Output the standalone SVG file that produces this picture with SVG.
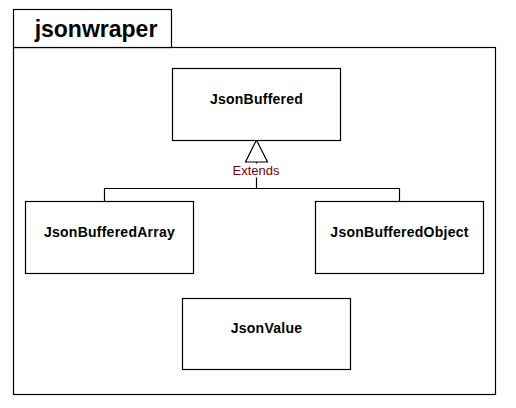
<svg xmlns="http://www.w3.org/2000/svg" width="516" height="408" viewBox="0 0 516 408">
<style>
.box{fill:#fff;stroke:#000;stroke-width:1.2}
.cls{font-family:"Liberation Sans",Arial,sans-serif;font-weight:bold;font-size:14px;letter-spacing:0.25px;fill:#000;text-anchor:middle}
.edge{fill:none;stroke:#000;stroke-width:1.2}
</style>
<rect width="516" height="408" fill="#fff"/>
<g id="package">
<rect class="box" x="13.5" y="47.5" width="482" height="347"/>
<rect class="box" x="13.5" y="9.5" width="158" height="38"/>
<text x="96" y="37" font-family="Liberation Sans,Arial,sans-serif" font-weight="bold" font-size="23" text-anchor="middle" fill="#000">jsonwraper</text>
</g>
<g id="connectors">
<polyline class="edge" points="104.5,201 104.5,188.5 399.5,188.5 399.5,201"/>
<line class="edge" x1="256.5" y1="162" x2="256.5" y2="188.5"/>
<polygon class="edge" points="256.5,140 245.5,162 267.5,162" style="fill:#fff"/>
<rect x="230" y="163.5" width="52" height="14" fill="#fff"/>
<text x="256" y="175" font-family="Liberation Sans,Arial,sans-serif" font-size="13" text-anchor="middle" fill="#800000">Extends</text>
</g>
<g id="JsonBuffered">
<rect class="box" x="172.5" y="68.5" width="168" height="72"/>
<text class="cls" x="256.5" y="104">JsonBuffered</text>
</g>
<g id="JsonBufferedArray">
<rect class="box" x="25.5" y="201.5" width="168" height="72"/>
<text class="cls" x="109.5" y="237">JsonBufferedArray</text>
</g>
<g id="JsonBufferedObject">
<rect class="box" x="315.5" y="201.5" width="168" height="72"/>
<text class="cls" x="399.5" y="237">JsonBufferedObject</text>
</g>
<g id="JsonValue">
<rect class="box" x="182.5" y="298.5" width="168" height="71"/>
<text class="cls" x="266.5" y="333">JsonValue</text>
</g>
</svg>
